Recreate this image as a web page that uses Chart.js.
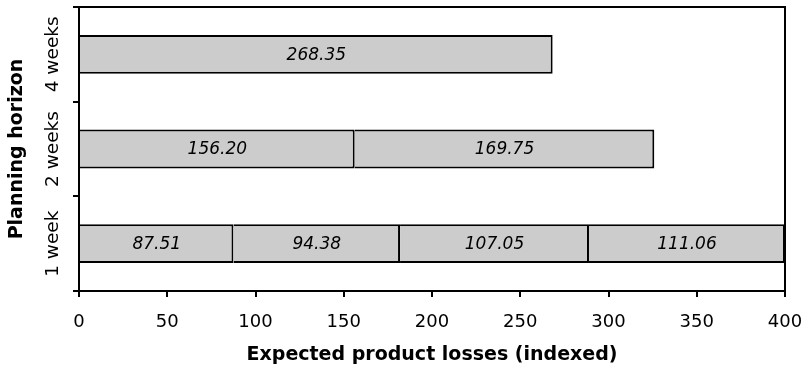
<!DOCTYPE html>
<html>
<head>
<meta charset="utf-8">
<script src="https://cdn.jsdelivr.net/npm/chart.js@4"></script>
<style>
  html, body { margin: 0; padding: 0; background: #fff; }
  #wrap { width: 804px; height: 368px; }
</style>
</head>
<body>
<div id="wrap"><canvas id="myChart"></canvas></div>
<script>
let horizons = ['1 week', '2 weeks', '4 weeks'];
// one series per planning period inside the horizon
let period1 = [87.51, 156.20, 268.35];
let period2 = [94.38, 169.75, null];
let period3 = [107.05, null, null];
let period4 = [111.06, null, null];
let xTicks = [0, 50, 100, 150, 200, 250, 300, 350, 400];

let fontFamily = '"DejaVu Sans", Verdana, sans-serif';

// values written in the middle of each segment
let segmentLabels = {
  id: 'segmentLabels',
  afterDatasetsDraw(chart) {
    let ctx = chart.ctx;
    ctx.save();
    ctx.font = 'italic 17px ' + fontFamily;
    ctx.fillStyle = '#000';
    ctx.textAlign = 'center';
    ctx.textBaseline = 'middle';
    chart.data.datasets.forEach((ds, i) => {
      chart.getDatasetMeta(i).data.forEach((bar, j) => {
        let v = ds.data[j];
        if (v == null) return;
        ctx.fillText(v.toFixed(2), (bar.x + bar.base) / 2, bar.y + 1);
      });
    });
    ctx.restore();
  }
};

// rotated category names and the box round the plot area
let frameAndLabels = {
  id: 'frameAndLabels',
  afterDraw(chart) {
    let ctx = chart.ctx;
    let a = chart.chartArea;
    let y = chart.scales.y;
    ctx.save();
    ctx.strokeStyle = '#000';
    ctx.lineWidth = 2;
    ctx.strokeRect(a.left, a.top, a.right - a.left, a.bottom - a.top);
    ctx.font = '18.5px ' + fontFamily;
    ctx.fillStyle = '#000';
    ctx.textAlign = 'center';
    ctx.textBaseline = 'middle';
    horizons.forEach((h, i) => {
      ctx.save();
      ctx.translate(a.left - 26, y.getPixelForValue(i));
      ctx.rotate(-Math.PI / 2);
      ctx.fillText(h, 0, 0);
      ctx.restore();
    });
    ctx.restore();
  }
};

// each segment draws only its right edge, so neighbours share one divider
// and the first segment sits on the axis line
let barStyle = {
  backgroundColor: '#cccccc',
  borderColor: '#000',
  borderWidth: { top: 2, bottom: 2, left: 0, right: 2 },
  borderSkipped: false,
  barPercentage: 0.41,
  categoryPercentage: 1.0
};

let ctx = document.getElementById('myChart').getContext('2d');
let myChart = new Chart(ctx, {
  type: 'bar',
  data: {
    labels: horizons,
    datasets: [
      Object.assign({ label: 'Period 1', data: period1 }, barStyle),
      Object.assign({ label: 'Period 2', data: period2 }, barStyle),
      Object.assign({ label: 'Period 3', data: period3 }, barStyle),
      Object.assign({ label: 'Period 4', data: period4 }, barStyle)
    ]
  },
  options: {
    indexAxis: 'y',
    responsive: true,
    maintainAspectRatio: false,
    animation: false,
    layout: { padding: { top: 7, right: 19, left: 0, bottom: 0 } },
    plugins: {
      legend: { display: false },
      tooltip: { enabled: false }
    },
    scales: {
      x: {
        stacked: true,
        min: 0,
        max: 400,
        afterBuildTicks: (scale) => {
          scale.ticks = xTicks.map(v => ({ value: v }));
        },
        afterFit: (scale) => {
          scale.height = 77;
          scale.paddingRight = 0;
          scale.paddingLeft = 0;
        },
        border: { color: '#000', width: 2 },
        grid: {
          drawOnChartArea: false,
          color: '#000',
          lineWidth: 2,
          tickLength: 6
        },
        ticks: {
          color: '#000',
          padding: 15,
          maxRotation: 0,
          font: { family: fontFamily, size: 18 }
        },
        title: {
          display: true,
          text: 'Expected product losses (indexed)',
          color: '#000',
          padding: { top: 0, bottom: 2 },
          font: { family: fontFamily, size: 19, weight: 'bold' }
        }
      },
      y: {
        stacked: true,
        reverse: true,
        offset: true,
        afterFit: (scale) => { scale.width = 79; },
        border: { color: '#000', width: 2 },
        grid: {
          offset: true,
          drawOnChartArea: false,
          color: '#000',
          lineWidth: 2,
          tickLength: 6
        },
        ticks: { display: false },
        title: {
          display: true,
          text: 'Planning horizon',
          color: '#000',
          padding: { top: 6 },
          font: { family: fontFamily, size: 19, weight: 'bold' }
        }
      }
    }
  },
  plugins: [segmentLabels, frameAndLabels]
});
</script>
</body>
</html>
